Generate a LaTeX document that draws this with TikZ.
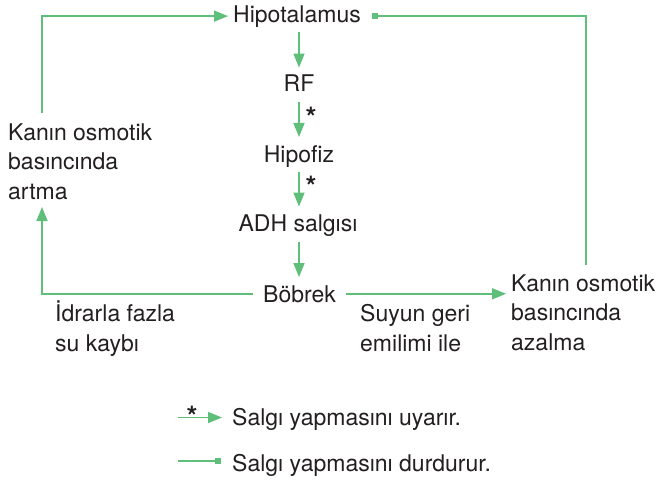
\documentclass[tikz,border=0pt]{standalone}
\usepackage{fontspec}
\setmainfont{TeX Gyre Heros}
\usetikzlibrary{arrows.meta}
\definecolor{gr}{RGB}{94,190,122}
\definecolor{tx}{RGB}{35,31,32}
\begin{document}
\begin{tikzpicture}[x=1pt,y=-1pt,
 lbl/.style={inner sep=0pt, text=tx, font=\fontsize{23}{29.5}\selectfont},
 ml/.style={lbl, align=left, anchor=base west},
 gline/.style={draw=gr, line width=1.6pt},
 arr/.style={gline, -{Triangle[length=14pt,width=11pt]}},
 stopper/.style={gline, -{Square[length=6pt,width=6pt]}},
 star/.style={inner sep=0pt, text=tx, font=\fontsize{28}{28}\selectfont\bfseries, anchor=north}]
\useasboundingbox (0,0) rectangle (660,480);

\node[lbl, anchor=base] (hyp) at (297,22) {Hipotalamus};
\node[lbl, anchor=base] (rf) at (299,91) {RF};
\node[lbl, anchor=base] (hpf) at (299,162) {Hipofiz};
\node[lbl, anchor=base] (adh) at (298,231) {ADH salgısı};
\node[lbl, anchor=base] (bob) at (299.5,302) {Böbrek};

\draw[arr, shorten <=5pt, shorten >=6.5pt] (rf.north |- hyp.south) -- (rf.north);
\draw[arr, shorten <=11pt, shorten >=8pt] (rf.south) -- (hpf.north);
\draw[arr, shorten <=5pt, shorten >=7.5pt] (hpf.south) -- (hpf.south |- adh.north);
\draw[arr, shorten <=6pt, shorten >=8pt] (hpf.south |- adh.south) -- (hpf.south |- bob.north);

\node[star] (s1) at (311,107) {*};
\node[star] (s2) at (311,176) {*};

\node[ml] (lk) at (8,199) {Kanın osmotik\\basıncında\\artma};
\node[ml] (rk) at (511,350) {Kanın osmotik\\basıncında\\azalma};
\node[ml] (idr) at (55,351) {İdrarla fazla\\su kaybı};
\node[ml] (suy) at (360,351) {Suyun geri\\emilimi ile};

\coordinate (lt) at (42,207);
\coordinate (ltop) at (42,113);
\coordinate (rtop) at (586,265);

\draw[arr, shorten <=10pt] (bob.west) -| (lt);
\draw[arr, shorten >=5pt] (ltop) |- (hyp.west);
\draw[stopper, shorten >=11pt] (rtop) |- (hyp.east);
\draw[arr, shorten <=10pt, shorten >=5pt] (bob.east) -- (bob.east -| rk.west);

\node[lbl, anchor=base west] (leg1) at (232,425) {Salgı yapmasını uyarır.};
\node[lbl, anchor=base west] (leg2) at (232,471) {Salgı yapmasını durdurur.};
\coordinate (l1) at (178,417.5);
\coordinate (l2) at (178,461);
\draw[arr, shorten >=10pt] (l1) -- (l1 -| leg1.west);
\node[star] (s3) at (192,406) {*};
\draw[stopper, shorten >=11pt] (l2) -- (l2 -| leg2.west);
\end{tikzpicture}
\end{document}
